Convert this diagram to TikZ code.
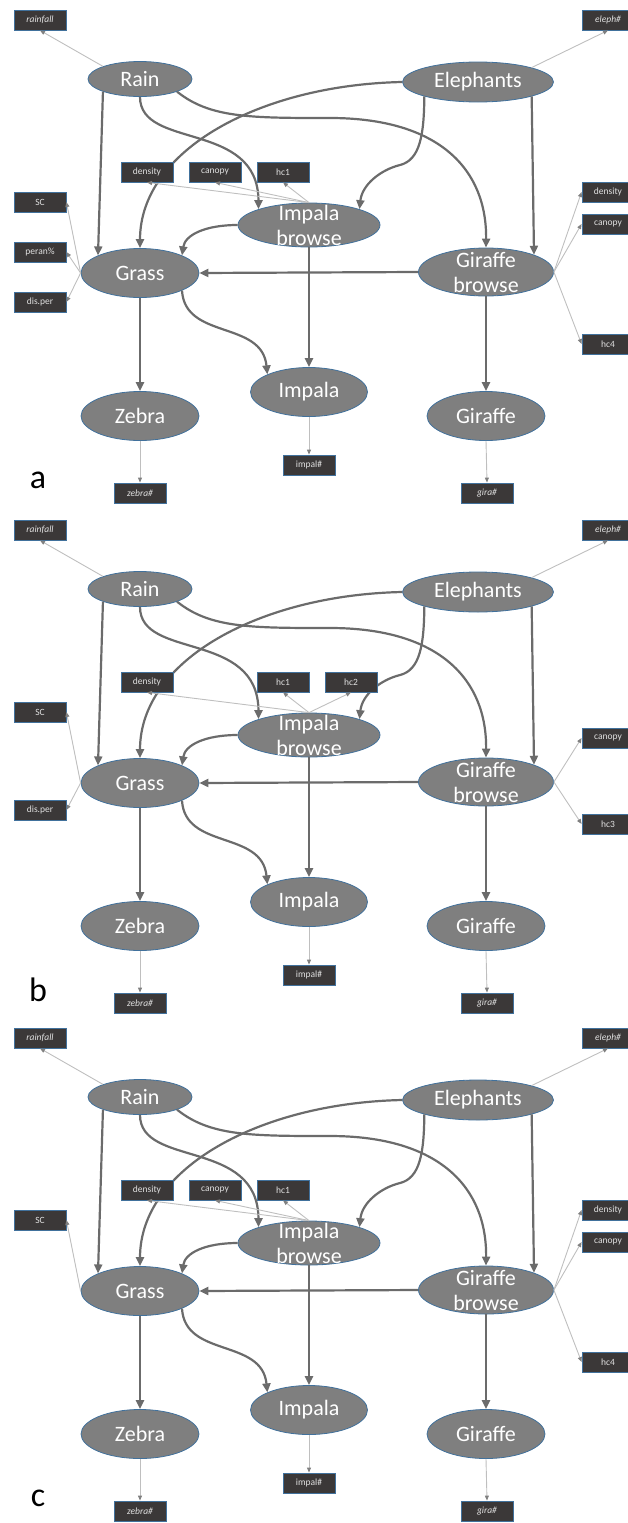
\documentclass[tikz,border=0pt]{standalone}
\usepackage{fontspec}
\setmainfont{Carlito}
\usetikzlibrary{shapes.geometric,arrows.meta}
\definecolor{nodegray}{HTML}{7F7F7F}
\definecolor{nodeblue}{HTML}{41719C}
\definecolor{boxgray}{HTML}{3B3838}
\definecolor{linkgray}{HTML}{6B6B6B}
\definecolor{obsgray}{HTML}{BFBFBF}
\newcommand{\animalfont}{\fontsize{22}{25}\selectfont}
\newcommand{\obsfont}{\fontsize{9.5}{10}\selectfont}

\tikzset{
  animal/.style={ellipse, draw=nodeblue, line width=0.8pt, fill=nodegray, inner sep=0pt,
    minimum width=118pt, minimum height=49pt, text=white, font=\animalfont},
  twoline/.style={label={[text=white, font=\animalfont, align=center]center:#1}},
  obs/.style={rectangle, draw=nodeblue, line width=0.8pt, fill=boxgray, inner sep=1pt,
    minimum width=52pt, minimum height=20pt, text=black!12, font=\obsfont},
  link/.style={draw=linkgray, line width=2.2pt, -{Triangle[length=9pt,width=8pt]}},
  measure/.style={draw=obsgray, line width=0.9pt, -{Triangle[length=5pt,width=4pt,color=gray]}},
  tag/.style={font=\fontsize{34}{34}\selectfont}
}

% nodes and links that all three panels share
\newcommand{\foodweb}[1]{%
  \node[animal, minimum width=104pt, minimum height=35pt] (rain) at (140,79) {Rain};
  \node[animal, minimum width=151pt, minimum height=40pt] (eleph) at (478,82) {Elephants};
  \node[animal, minimum width=142pt, minimum height=44pt, twoline={Impala\\browse}] (ibrowse) at (309,225) {};
  \node[animal] (grass) at (140,273) {Grass};
  \node[animal, minimum width=135pt, minimum height=48pt, twoline={Giraffe\\browse}] (gbrowse) at (486,272) {};
  \node[animal, minimum width=117pt] (impala) at (309,392) {Impala};
  \node[animal] (zebra) at (140,416) {Zebra};
  \node[animal] (giraffe) at (486,416) {Giraffe};
  \node[obs] (rainfall) at (40,20) {\itshape rainfall};
  \node[obs] (elephn) at (608,20) {\itshape eleph\#};
  \node[obs] (impaln) at (309,465) {impal\#};
  \node[obs] (zebran) at (140,493) {\itshape zebra\#};
  \node[obs] (giran) at (487,493) {\itshape gira\#};
  \node[tag] (panel) at (38,480) {#1};
  % causal links
  \draw[link] (rain.south west) -- (grass.north west);
  \draw[link] (rain.south) .. controls (140,150) and (258,120) .. (ibrowse.north west);
  \draw[link] (rain.south east) .. controls (210,118) and (250,118) .. (330,118)
    .. controls (440,118) and (487,170) .. (gbrowse.north);
  \draw[link] (eleph.west) .. controls (260,85) and (140,150) .. (grass.north);
  \draw[link] (eleph.south west) .. controls (424,135) and (420,160) .. (400,165)
    .. controls (380,170) and (362,185) .. (ibrowse.north east);
  \draw[link] (eleph.south east) -- (gbrowse.north east);
  \draw[link] (ibrowse.west) .. controls (205,225) and (185,235) .. (grass.north east);
  \draw[link] (ibrowse.south) -- (impala.north);
  \draw[link] (gbrowse.west) -- (grass.east);
  \draw[link] (grass.south) -- (zebra.north);
  \draw[link] (grass.south east) .. controls (185,340) and (262,320) .. (impala.north west);
  \draw[link] (gbrowse.south) -- (giraffe.north);
  % counts
  \draw[measure] (rain.north west) -- (rainfall.south);
  \draw[measure] (eleph.north east) -- (elephn.south);
  \draw[measure] (impala.south) -- (impaln.north);
  \draw[measure] (zebra.south) -- (zebran.north);
  \draw[measure] (giraffe.south) -- (giran.north);
}

\begin{document}
\begin{tikzpicture}[x=1pt,y=-1pt]
\useasboundingbox (0,0) rectangle (627,1523);

% panel a
\begin{scope}[name prefix=a-]
  \foodweb{a}
  \node[obs] (density) at (147,172) {density};
  \node[obs] (canopy) at (215,172) {canopy};
  \node[obs] (hc1) at (283,172) {hc1};
  \node[obs] (sc) at (40,202) {SC};
  \node[obs] (peran) at (40,252) {peran\%};
  \node[obs] (disper) at (40,302) {dis.per};
  \node[obs] (gdensity) at (608,192) {density};
  \node[obs] (gcanopy) at (608,224) {canopy};
  \node[obs] (hc4) at (608,344) {hc4};
  \draw[measure] (ibrowse.north) -- (density.south);
  \draw[measure] (ibrowse.north) -- (canopy.south);
  \draw[measure] (ibrowse.north) -- (hc1.south);
  \draw[measure] (grass.west) -- (sc.east);
  \draw[measure] (grass.west) -- (peran.east);
  \draw[measure] (grass.west) -- (disper.east);
  \draw[measure] (gbrowse.east) -- (gdensity.west);
  \draw[measure] (gbrowse.east) -- (gcanopy.west);
  \draw[measure] (gbrowse.east) -- (hc4.west);
\end{scope}

% panel b
\begin{scope}[shift={(0,510)}, name prefix=b-]
  \foodweb{b}
  \node[obs] (density) at (147,172) {density};
  \node[obs] (hc1) at (283,172) {hc1};
  \node[obs] (hc2) at (351,172) {hc2};
  \node[obs] (sc) at (40,202) {SC};
  \node[obs] (disper) at (40,300) {dis.per};
  \node[obs] (gcanopy) at (608,228) {canopy};
  \node[obs] (hc3) at (608,314) {hc3};
  \draw[measure] (ibrowse.north) -- (density.south);
  \draw[measure] (ibrowse.north) -- (hc1.south);
  \draw[measure] (ibrowse.north) -- (hc2.south);
  \draw[measure] (grass.west) -- (sc.east);
  \draw[measure] (grass.west) -- (disper.east);
  \draw[measure] (gbrowse.east) -- (gcanopy.west);
  \draw[measure] (gbrowse.east) -- (hc3.west);
\end{scope}

% panel c
\begin{scope}[shift={(0,1018)}, name prefix=c-]
  \foodweb{c}
  \node[obs] (density) at (147,172) {density};
  \node[obs] (canopy) at (215,172) {canopy};
  \node[obs] (hc1) at (283,172) {hc1};
  \node[obs] (sc) at (40,202) {SC};
  \node[obs] (gdensity) at (608,192) {density};
  \node[obs] (gcanopy) at (608,224) {canopy};
  \node[obs] (hc4) at (608,344) {hc4};
  \draw[measure] (ibrowse.north) -- (density.south);
  \draw[measure] (ibrowse.north) -- (canopy.south);
  \draw[measure] (ibrowse.north) -- (hc1.south);
  \draw[measure] (grass.west) -- (sc.east);
  \draw[measure] (gbrowse.east) -- (gdensity.west);
  \draw[measure] (gbrowse.east) -- (gcanopy.west);
  \draw[measure] (gbrowse.east) -- (hc4.west);
\end{scope}
\end{tikzpicture}
\end{document}
